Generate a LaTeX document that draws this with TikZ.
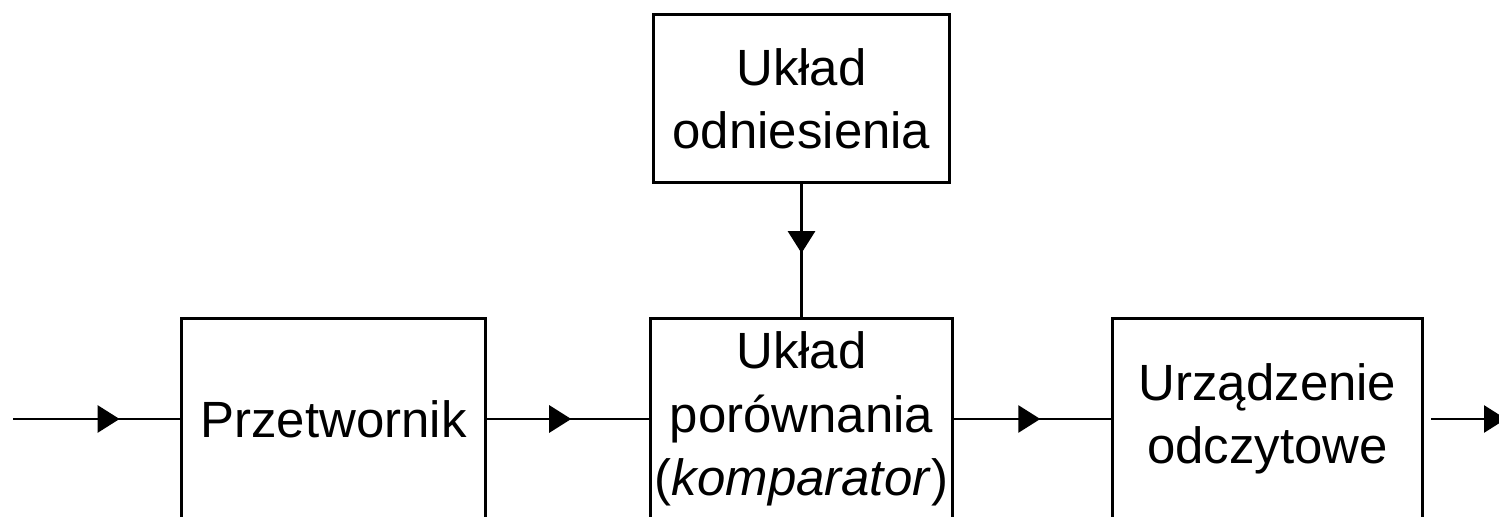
\documentclass[tikz,border=0pt]{standalone}
\usepackage{fontspec}
\setmainfont{Liberation Sans}
\usetikzlibrary{arrows.meta,decorations.markings}

\tikzset{
  blok/.style={draw,line width=1.7pt,align=center,inner sep=0pt,
    minimum width=#1,minimum height=4.04cm,
    font=\fontsize{29}{36}\selectfont},
  strzalka/.style={line width=1.6pt,
    decoration={markings,mark=at position #1 with
      {\arrow{Triangle[length=0.44cm,width=0.54cm]}}},
    postaction={decorate}},
}

\begin{document}
\begin{tikzpicture}[x=0.02cm,y=-0.02cm]
  \useasboundingbox (0,0) rectangle (1499,517);
  \clip (0,0) rectangle (1499,517);
  % bloki
  \node[blok=5.94cm,minimum height=3.38cm] (odn) at (801.5,98.5) {Układ\\odniesienia};
  \node[blok=6.1cm] (prz) at (333.5,419) {Przetwornik};
  \node[blok=6.06cm] (por) at (801.5,419) {Układ\\porównania\\(\textit{komparator})};
  \node[blok=6.22cm] (urz) at (1267.5,419) {Urządzenie\\odczytowe};
  \coordinate (we) at (13,419);
  \coordinate (wy) at (1506,419);
  % polaczenia
  \draw[strzalka=0.64] (we) -- (prz);
  \draw[strzalka=0.52] (prz) -- (por);
  \draw[strzalka=0.55] (por) -- (urz);
  \draw[strzalka=0.52] (odn) -- (por);
  \draw[line width=1.6pt,shorten <=0.14cm,-{Triangle[length=0.44cm,width=0.54cm]}] (urz) -- (wy);
\end{tikzpicture}
\end{document}
